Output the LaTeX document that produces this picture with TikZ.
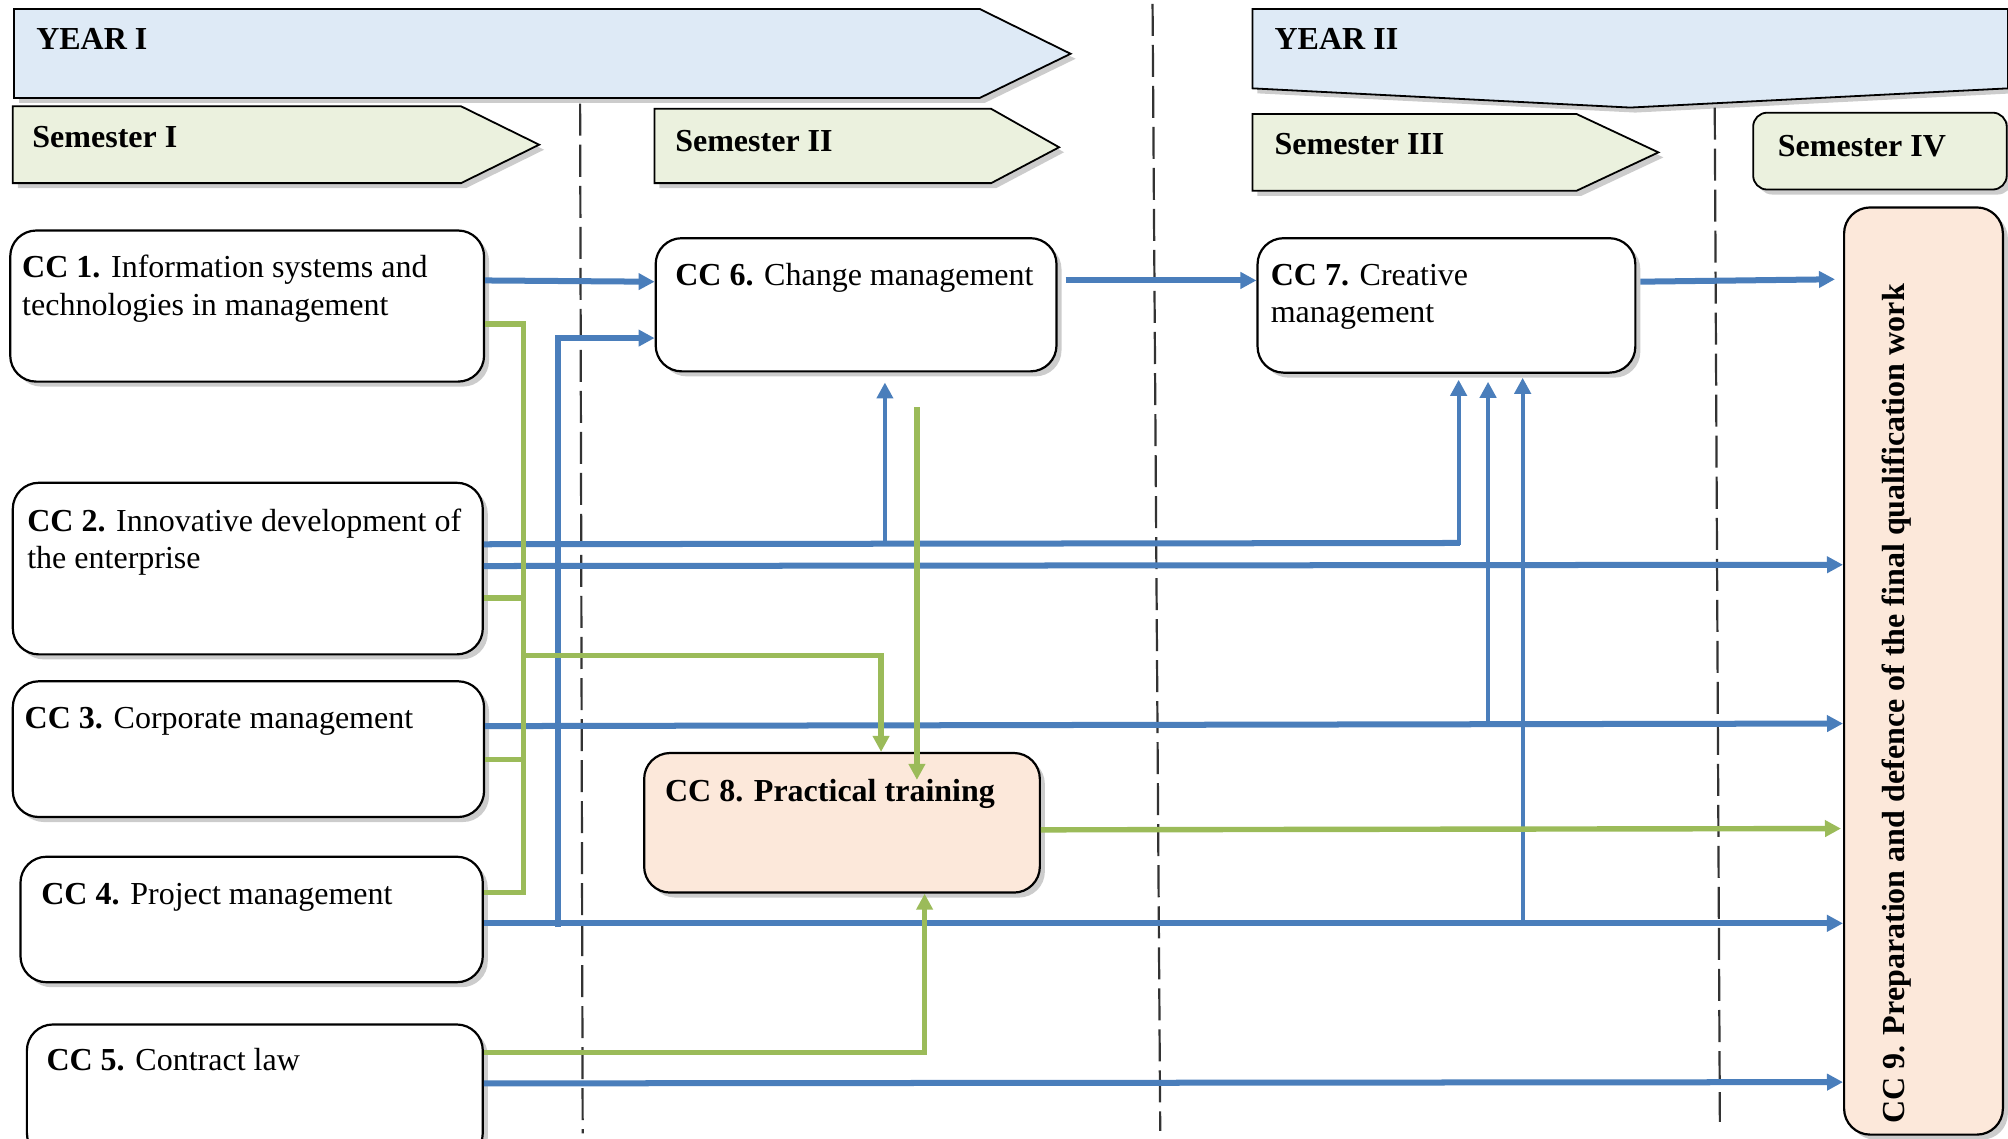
\documentclass[tikz,border=0pt]{standalone}
\usepackage{fontspec}
\setmainfont{Liberation Serif}
\usetikzlibrary{arrows.meta,shadows,fit}

\definecolor{yearfill}{HTML}{DEEAF6}
\definecolor{semfill}{HTML}{EBF1DE}
\definecolor{peach}{HTML}{FCE8DA}
\definecolor{lblue}{HTML}{4A7EBB}
\definecolor{lgreen}{HTML}{9BBB59}
\definecolor{dashgray}{HTML}{333333}

\tikzset{
 txt/.style={font=\fontsize{16}{18.5}\selectfont, inner sep=0pt, anchor=base west},
 btxt/.style={txt, font=\fontsize{16}{18.5}\selectfont\bfseries},
 shad/.style={drop shadow={shadow xshift=2.5pt, shadow yshift=-2.5pt, opacity=0.2, fill=black}},
 ccbox/.style={draw=black, line width=1.1pt, rounded corners=13pt, fill=white, inner sep=0pt, shad},
 chev/.style={draw=black, line width=0.9pt, shad},
 sepline/.style={draw=dashgray, line width=1.1pt, dash pattern=on 16pt off 4.5pt},
 tip/.style={-{Triangle[length=8pt,width=8pt]}},
 bthick/.style={draw=lblue, line width=3pt},
 bthin/.style={draw=lblue, line width=2pt},
 gline/.style={draw=lgreen, line width=2.7pt},
}

\begin{document}
\begin{tikzpicture}[x=0.64pt, y=-0.64pt]
\useasboundingbox (0,0) rectangle (1568,889);
\clip (0,0) rectangle (1568,889);
\fill[white] (0,0) rectangle (1568,889);

% year and semester bands
\draw[chev, fill=yearfill] (11,7) -- (765,7) -- (836,42) -- (765,76.5) -- (11,76.5) -- cycle;
\draw[chev, fill=yearfill] (978,7) -- (1568,7) -- (1568,69) -- (1273,84) -- (978,69) -- cycle;
\draw[chev, fill=semfill] (10,83) -- (360,83) -- (421,113) -- (360,143) -- (10,143) -- cycle;
\draw[chev, fill=semfill] (511,85) -- (774,85) -- (827,115) -- (774,143) -- (511,143) -- cycle;
\draw[chev, fill=semfill] (978,89) -- (1231,89) -- (1295,119) -- (1231,149) -- (978,149) -- cycle;
\draw[chev, fill=semfill, rounded corners=7pt] (1369,88) rectangle (1567,148);

% dashed separators
\draw[sepline] (453,81) -- (455,885);
\draw[sepline] (900,3) -- (906,883);
\draw[sepline] (1339,84) -- (1343,876);

% boxes
\node[ccbox, fit={(8,180)(378,298)}] (cc1) {};
\node[ccbox, fit={(10,377)(377,511)}] (cc2) {};
\node[ccbox, fit={(10,532)(378,638)}] (cc3) {};
\node[ccbox, fit={(16,669)(377,767)}] (cc4) {};
\node[ccbox, fit={(21,800)(377,905)}] (cc5) {};
\node[ccbox, fit={(512,186)(825,290)}] (cc6) {};
\node[ccbox, fit={(982,186)(1277,291)}] (cc7) {};
\node[ccbox, fill=peach, fit={(503,588)(812,697)}] (cc8) {};
\node[ccbox, fill=peach, fit={(1440,162)(1564,886)}] (cc9) {};

% texts
\node[btxt] (y1) at (28,39) {YEAR I};
\node[btxt] (y2) at (995,39) {YEAR II};
\node[btxt] (s1) at (25,115) {Semester I};
\node[btxt] (s2) at (527,118) {Semester II};
\node[btxt] (s3) at (995,121) {Semester III};
\node[btxt] (s4) at (1388,122) {Semester IV};

\node[txt] (cc1a) at (17,217) {\textbf{CC 1.} Information systems and};
\node[txt] (cc1b) at (17,246) {technologies in management};
\node[txt] (cc2a) at (21,415) {\textbf{CC 2.} Innovative development of};
\node[txt] (cc2b) at (21,444) {the enterprise};
\node[txt] (cc3a) at (19,569) {\textbf{CC 3.} Corporate management};
\node[txt] (cc4a) at (32,706) {\textbf{CC 4.} Project management};
\node[txt] (cc5a) at (36,836) {\textbf{CC 5.} Contract law};
\node[txt] (cc6a) at (527,223) {\textbf{CC 6.} Change management};
\node[txt] (cc7a) at (992,223) {\textbf{CC 7.} Creative};
\node[txt] (cc7b) at (992,252) {management};
\node[btxt] (cc8a) at (519,626) {CC 8. Practical training};
\node[btxt, rotate=90] (cc9a) at (1487,878) {CC 9. Preparation and defence of the final qualification work};

% free ends
\coordinate (j4) at (436,724);
\coordinate (g6) at (716,318);
\coordinate (g8) at (716,609);

% blue connectors
\draw[bthick,tip] (cc1.east |- 0,219) -- (cc6.west |- 0,220);
\draw[bthick,tip] (j4) -- (436,264) -- (cc6.west |- 0,264);
\draw[bthick,tip,shorten <=4pt] (cc6.east |- 0,219) -- (cc7.west |- 0,219);
\draw[bthick,tip,shorten <=2pt,shorten >=4pt] (cc7.east |- 0,220) -- (cc9.west |- 0,218);

\draw[bthick] (cc2.east |- 0,425) -- (1140,424);
\draw[bthin,tip,shorten >=3pt] (1139,425.5) -- (1139,0 |- cc7.south);
\draw[bthin,tip,shorten >=5pt] (691,425) -- (691,0 |- cc6.south);
\draw[bthick,tip] (cc2.east |- 0,442) -- (cc9.west |- 0,441);

\draw[bthick,tip] (cc3.east |- 0,567) -- (cc9.west |- 0,565);
\draw[bthin,tip,shorten >=4pt] (1162,566) -- (1162,0 |- cc7.south);

\draw[bthick,tip] (cc4.east |- 0,721) -- (cc9.west |- 0,721);
\draw[bthin,tip,shorten >=2pt] (1189,721) -- (1189,0 |- cc7.south);

\draw[bthick,tip] (cc5.east |- 0,846) -- (cc9.west |- 0,845);

% green connectors
\draw[gline] (cc1.east |- 0,253) -- (409,253) -- (409,697) -- (cc4.east |- 0,697);
\draw[gline] (cc2.east |- 0,467) -- (409,467);
\draw[gline] (cc3.east |- 0,593) -- (409,593);
\draw[gline,tip] (409,512) -- (688,512) -- (688,0 |- cc8.north);
\draw[gline,tip] (g6) -- (g8);
\draw[gline,tip] (cc5.east |- 0,822) -- (722,822) -- (722,0 |- cc8.south);
\draw[gline,tip,shorten >=1pt] (cc8.east |- 0,648) -- (cc9.west |- 0,647);
\end{tikzpicture}
\end{document}
